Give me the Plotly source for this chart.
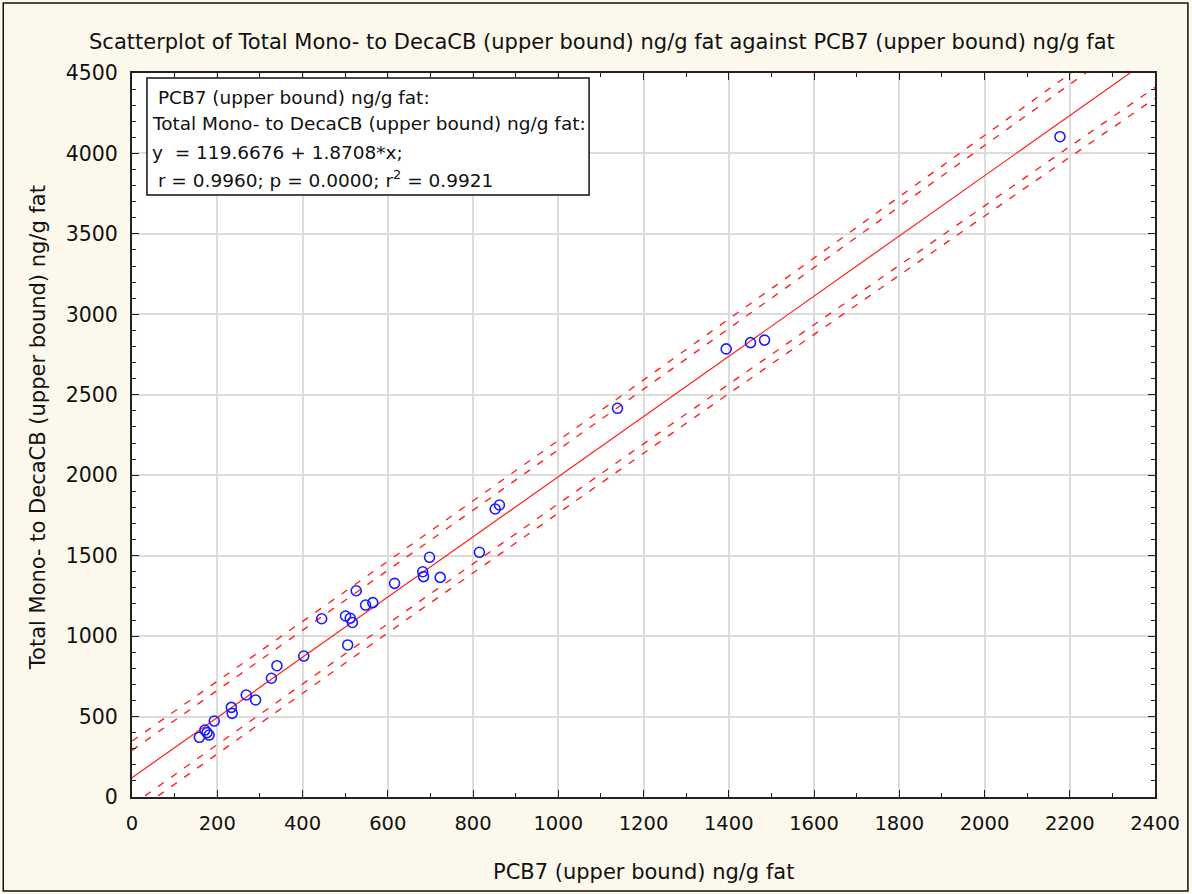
import numpy as np
import plotly.graph_objects as go

# ---- data ----
pcb7 = [158, 171, 176, 181, 193, 233, 235, 268, 290, 327, 340,
        403, 445, 501, 506, 512, 517, 526, 548, 565, 616,
        682, 684, 698, 723, 815, 852, 862,
        1139, 1394, 1451, 1484, 2177]
total_cb = [371, 416, 400, 385, 472, 557, 520, 634, 603, 738, 816,
            876, 1108, 1125, 945, 1111, 1085, 1282, 1193, 1208, 1328,
            1400, 1370, 1490, 1365, 1521, 1790, 1815,
            2416, 2785, 2824, 2840, 4104]

intercept = 119.6676
slope = 1.8708
resid_se = 80.0
t_inner = 2.035          # 95 %
t_outer = 2.733          # 99 %

x_ticks = list(range(0, 2401, 200))
y_ticks = list(range(0, 4501, 500))

title_text = "Scatterplot of Total Mono- to DecaCB (upper bound) ng/g fat against PCB7 (upper bound) ng/g fat"
x_title = "PCB7 (upper bound) ng/g fat"
y_title = "Total Mono- to DecaCB (upper bound) ng/g fat"
box_lines = [" PCB7 (upper bound) ng/g fat:",
             "Total Mono- to DecaCB (upper bound) ng/g fat:",
             "y  = 119.6676 + 1.8708*x;",
             " r = 0.9960; p = 0.0000; r<sup>2</sup> = 0.9921"]

# ---- geometry (pixels) ----
W, H = 1192, 894
L, R, T, B = 132, 1157, 73, 797
pw, ph = R - L, B - T

def px(xp):
    return (xp - L) / pw

def py(yp):
    return (B - yp) / ph

# ---- regression line and bands ----
xs = np.linspace(0, 2400, 241)
yfit = intercept + slope * xs
xa = np.array(pcb7, dtype=float)
n = len(xa)
xm = xa.mean()
sxx = ((xa - xm) ** 2).sum()
fac = resid_se * np.sqrt(1 + 1 / n + (xs - xm) ** 2 / sxx)

red = "#ff2020"
dash = "7px,9px"
fig = go.Figure()
for t in (t_outer, t_inner):
    for sgn in (1, -1):
        fig.add_trace(go.Scatter(x=xs, y=yfit + sgn * t * fac, mode="lines",
                                 line=dict(color=red, width=1.4, dash=dash),
                                 hoverinfo="skip", showlegend=False))
fig.add_trace(go.Scatter(x=xs, y=yfit, mode="lines",
                         line=dict(color=red, width=1.2),
                         hoverinfo="skip", showlegend=False))
fig.add_trace(go.Scatter(x=pcb7, y=total_cb, mode="markers",
                         marker=dict(symbol="circle-open", size=10,
                                     color="#1c1cff", line=dict(width=1.6)),
                         showlegend=False))

font_main = "DejaVu Sans, Liberation Sans, Arial"
axis_common = dict(showline=True, linecolor="#222222", linewidth=2, mirror="allticks",
                   ticks="inside", ticklen=7, tickwidth=1.2, tickcolor="#222222",
                   showgrid=True, gridcolor="#dcdcdc", gridwidth=2,
                   zeroline=False, ticklabelstandoff=8)

fig.update_xaxes(range=[0, 2400], tickmode="array", tickvals=x_ticks,
                 minor=dict(dtick=100, ticks="inside", ticklen=4, tickcolor="#222222", showgrid=False),
                 tickfont=dict(family=font_main, size=19.5, color="#111111"),
                 **axis_common)
fig.update_yaxes(range=[0, 4500], tickmode="array", tickvals=y_ticks,
                 minor=dict(dtick=100, ticks="inside", ticklen=4, tickcolor="#222222", showgrid=False),
                 tickfont=dict(family=font_main, size=20.5, color="#111111"),
                 **axis_common)

annotations = [
    dict(text=title_text, xref="paper", yref="paper", x=px(603), y=py(42),
         showarrow=False, xanchor="center", yanchor="middle",
         font=dict(family=font_main, size=21, color="#111111")),
    dict(text=x_title, xref="paper", yref="paper", x=px(645), y=py(872),
         showarrow=False, xanchor="center", yanchor="middle",
         font=dict(family=font_main, size=21, color="#111111")),
    dict(text=y_title, xref="paper", yref="paper", x=px(38), y=py(428),
         showarrow=False, xanchor="center", yanchor="middle", textangle=-90,
         font=dict(family=font_main, size=21, color="#111111")),
]
line_y = [97, 123, 152, 179]
for txt, yy in zip(box_lines, line_y):
    annotations.append(dict(text=txt, xref="paper", yref="paper", x=px(150), y=py(yy),
                            showarrow=False, xanchor="left", yanchor="middle",
                            font=dict(family=font_main, size=18.5, color="#111111")))

shapes = [
    dict(type="rect", xref="paper", yref="paper", x0=px(147), x1=px(590),
         y0=py(195), y1=py(78), line=dict(color="#111111", width=1.5),
         fillcolor="white", layer="above"),
    dict(type="rect", xref="paper", yref="paper", x0=px(3), x1=px(1190),
         y0=py(891), y1=py(3), line=dict(color="#111111", width=1.5),
         fillcolor="rgba(0,0,0,0)", layer="below"),
]

fig.update_layout(width=W, height=H, margin=dict(l=L, r=W - R, t=T, b=H - B),
                  paper_bgcolor="#fdf8ec", plot_bgcolor="white",
                  annotations=annotations, shapes=shapes, showlegend=False)

fig.write_html("out.html")
